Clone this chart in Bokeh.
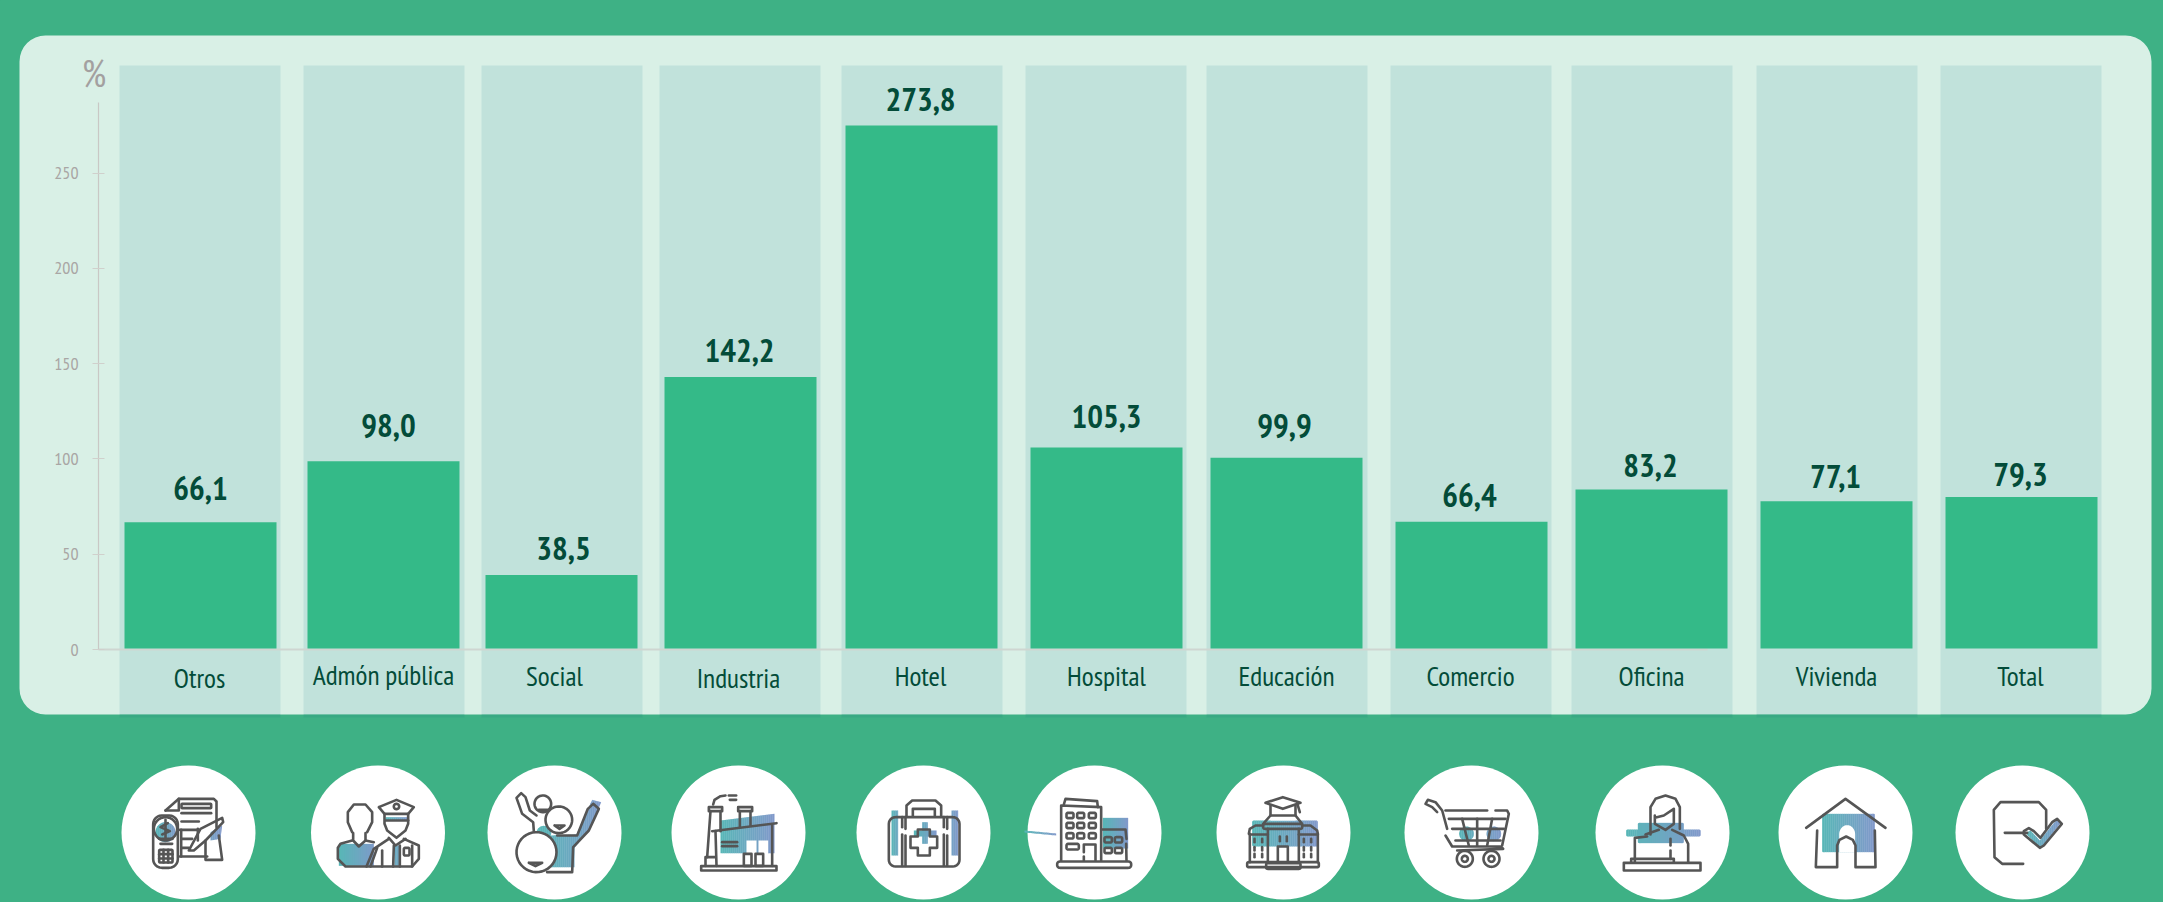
import numpy as np
from bokeh.core.properties import value
from bokeh.embed import file_html
from bokeh.models import BoxAnnotation, FixedTicker, Label, LinearAxis, Range1d
from bokeh.plotting import figure
from bokeh.resources import INLINE

# ---- data ----
categories = ["Otros", "Admón pública", "Social", "Industria", "Hotel", "Hospital",
              "Educación", "Comercio", "Oficina", "Vivienda", "Total"]
values = [66.1, 98.0, 38.5, 142.2, 273.8, 105.3, 99.9, 66.4, 83.2, 77.1, 79.3]
value_labels = ["66,1", "98,0", "38,5", "142,2", "273,8", "105,3", "99,9", "66,4", "83,2", "77,1", "79,3"]
y_ticks = [0, 50, 100, 150, 200, 250]

# ---- layout (page pixels) ----
W, H = 2163, 902
FONT = "'PT Sans Narrow','Cabin Condensed','Open Sans',sans-serif"
COL_L = [119, 303, 481, 659, 841, 1025, 1206, 1390, 1571, 1756, 1940]
BAR_L = [124, 307, 485, 664, 845, 1030, 1210, 1395, 1575, 1760, 1945]
BAR_W = 152
COL_W = 161
LABEL_X = [199, 383, 554, 738, 920, 1106, 1286, 1470, 1651, 1836, 2020]
LABEL_Y = [677, 674, 675, 677, 675, 675, 675, 675, 675, 675, 675]
VALUE_X = [200, 388, 563, 739, 920, 1106, 1284, 1469, 1650, 1835, 2020]
VALUE_Y = [488, 424.5, 547.5, 350, 99, 416, 424.5, 495, 464.5, 475.5, 474]
ICON_X = [188, 377.5, 554, 738, 923, 1094, 1283, 1471, 1662, 1845, 2022]
BASE_PX, PX_PER_UNIT = 648, 1.91

GREEN, PANEL, COLBG, STUB, BAR, DARK, GREY, INK = ("#3eb185", "#d9f0e6", "#c1e2db", "#38a983",
                                                  "#34ba88", "#034c39", "#a9a6a4", "#555555")

p = figure(width=W, height=H, output_backend="svg", toolbar_location=None,
           x_range=Range1d(0, W),
           y_range=Range1d(-(H - BASE_PX) / PX_PER_UNIT, BASE_PX / PX_PER_UNIT),
           x_axis_location=None, y_axis_location=None,
           min_border_left=0, min_border_right=0, min_border_top=0, min_border_bottom=0,
           border_fill_color=GREEN, background_fill_color=GREEN, outline_line_color=None)
p.grid.visible = False
p.extra_y_ranges["px"] = Range1d(H, 0)
p.extra_y_ranges["tick"] = Range1d(-(H - 649) / 1.906, 649 / 1.906)

p.add_layout(BoxAnnotation(left=19, right=2151, top=35, bottom=714,
                           left_units="canvas", right_units="canvas", top_units="canvas", bottom_units="canvas",
                           fill_color=PANEL, fill_alpha=1, line_color=None, border_radius=26, level="underlay"))

col_l = np.array(COL_L)
bar_l = np.array(BAR_L)
p.quad(left=col_l, right=col_l + COL_W, top=65, bottom=714, y_range_name="px", fill_color=COLBG, line_color=None)
p.quad(left=col_l, right=col_l + COL_W, top=714, bottom=717, y_range_name="px", fill_color=STUB, line_color=None)
p.segment(x0=[98], x1=[1707], y0=[649], y1=[649], y_range_name="px", line_color="#cfd6d1", line_width=2)
p.quad(left=bar_l, right=bar_l + BAR_W, bottom=0, top=values, fill_color=BAR, line_color=None)

axis = LinearAxis(y_range_name="tick", ticker=FixedTicker(ticks=y_ticks), bounds=(0, 287), fixed_location=98,
                  axis_line_color="#c9c8c5", axis_line_width=1.2,
                  major_tick_line_color="#d0d0cc", major_tick_line_width=1.2,
                  major_tick_in=6, major_tick_out=6, minor_tick_line_color=None,
                  major_label_text_color=GREY, major_label_text_font=FONT,
                  major_label_text_font_size="18px", major_label_standoff=14)
p.add_layout(axis, "left")
p.add_layout(Label(x=93.5, y=72, x_units="canvas", y_units="canvas", text="%", text_align="center",
                   text_baseline="alphabetic", text_color="#a3a0a0", text_font=FONT, text_font_size="38px"))

p.text(x=LABEL_X, y=LABEL_Y, text=categories, y_range_name="px", text_align="center", text_baseline="middle",
       text_color=DARK, text_font=value(FONT), text_font_size="27.5px")
p.text(x=VALUE_X, y=VALUE_Y, text=value_labels, y_range_name="px", text_align="center", text_baseline="middle",
       text_color=DARK, text_font=value(FONT), text_font_style="bold", text_font_size="33px")

p.circle(x=ICON_X, y=[832] * 11, radius=67, y_range_name="px", fill_color="white", line_color=None)

# ---- icon artwork: sketched in 3x zoom coordinates around an origin ----
paths = []


def lerp(t):
    a, b = np.array([0x58, 0xb7, 0xb7]), np.array([0x82, 0x99, 0xcb])
    c = a + (b - a) * float(np.clip(t, 0, 1))
    return "#%02x%02x%02x" % tuple(int(v) for v in c)


def clip_slab(poly, x0, x1):
    def clip(pts, keep, cross):
        out = []
        for i in range(len(pts)):
            a, b = pts[i], pts[(i + 1) % len(pts)]
            if keep(a):
                out.append(a)
            if keep(a) != keep(b):
                out.append(cross(a, b))
        return out

    def at(xv):
        return lambda a, b: (xv, a[1] + (b[1] - a[1]) * (xv - a[0]) / (b[0] - a[0]))

    pts = clip(list(poly), lambda q: q[0] >= x0, at(x0))
    return clip(pts, lambda q: q[0] <= x1, at(x1)) if pts else pts


def arc(cx, cy, rx, ry=None, a0=0, a1=360, n=40):
    ry = rx if ry is None else ry
    t = np.radians(np.linspace(a0, a1, n))
    return list(zip(cx + rx * np.cos(t), cy + ry * np.sin(t)))


def rrect(x0, y0, x1, y1, r=4):
    return (arc(x0 + r, y0 + r, r, r, 180, 270, 7) + arc(x1 - r, y0 + r, r, r, 270, 360, 7)
            + arc(x1 - r, y1 - r, r, r, 0, 90, 7) + arc(x0 + r, y1 - r, r, r, 90, 180, 7))


def box(x0, y0, x1, y1):
    return [(x0, y0), (x1, y0), (x1, y1), (x0, y1)]


class Icon:
    def __init__(self, ox, oy=760):
        self.ox, self.oy = ox, oy

    def pt(self, pts):
        a = np.array(pts, float)
        return a[:, 0] / 3 + self.ox, a[:, 1] / 3 + self.oy

    def line(self, *polys):
        for q in polys:
            x, y = self.pt(q)
            paths.append((list(x), list(y)))

    def loop(self, *polys):
        self.line(*[list(q) + [q[0]] for q in polys])

    def grad(self, poly, g0=None, g1=None):
        a = np.array(poly, float)
        g0 = a[:, 0].min() if g0 is None else g0
        g1 = a[:, 0].max() if g1 is None else g1
        xs, ys, cs = [], [], []
        edges = np.arange(a[:, 0].min(), a[:, 0].max() + 6, 6)
        for e0, e1 in zip(edges[:-1], edges[1:]):
            s = clip_slab([tuple(v) for v in a], e0, e1 + 1)
            if len(s) >= 3:
                x, y = self.pt(s)
                xs.append(list(x)); ys.append(list(y)); cs.append(lerp(((e0 + e1) / 2 - g0) / (g1 - g0)))
        p.patches(xs, ys, y_range_name="px", fill_color=cs, line_color=None)

    def white(self, poly):
        x, y = self.pt(poly)
        p.patch(list(x), list(y), y_range_name="px", fill_color="white", line_color=None)


# Otros
i = Icon(110)
i.grad(arc(165, 215, 30), 135, 200)
i.grad([(300, 215), (335, 195), (330, 235), (300, 240)], 210, 335)
i.line([(165, 150), (205, 115), (310, 115), (318, 123), (318, 200)], [(205, 115), (205, 150), (165, 150)],
       [(213, 158), (302, 158)], [(213, 183), (265, 183)], [(208, 208), (262, 208)],
       [(208, 288), (290, 288)], [(212, 208), (212, 288)], [(215, 235), (245, 235)], [(215, 262), (235, 262)],
       [(235, 270), (270, 205), (335, 172), (338, 185), (285, 240), (250, 270), (235, 270)],
       [(285, 240), (285, 298), (335, 298), (325, 225)], [(262, 205), (262, 240)],
       [(150, 250), (185, 250)], [(146, 235), (186, 235)],
       [(155, 222), (178, 212), (150, 200), (172, 188)], [(165, 178), (165, 232)],
       [(159, 268), (159, 306)], [(173, 268), (173, 306)], [(146, 281), (186, 281)], [(146, 294), (186, 294)])
i.loop(rrect(213, 130, 302, 143, 2), rrect(128, 165, 202, 322, 26), arc(165, 205, 35), rrect(146, 268, 186, 306, 3))
# Admón pública
i = Icon(110)
i.grad(box(685, 250, 790, 316), 685, 800)
i.grad(box(825, 170, 892, 180), 825, 892)
i.grad(box(852, 255, 868, 316), 800, 920)
i.line([(725, 215), (712, 185), (712, 155), (730, 132), (765, 132), (785, 155), (785, 185), (770, 215)],
       [(728, 218), (728, 240), (745, 258), (765, 240), (765, 218)],
       [(725, 240), (690, 250), (682, 262), (682, 295), (705, 318), (905, 318), (925, 295), (925, 255), (880, 235)],
       [(790, 245), (765, 240)], [(805, 140), (858, 118), (910, 140), (893, 160), (822, 160), (805, 140)],
       [(822, 160), (822, 190), (830, 210), (858, 232), (885, 210), (893, 190), (893, 160)],
       [(825, 180), (893, 180)], [(835, 232), (855, 255), (885, 235)],
       [(850, 255), (848, 318)], [(868, 255), (868, 318)],
       [(768, 318), (790, 265), (835, 235)], [(780, 318), (800, 262)], [(905, 255), (905, 318)], [(815, 270), (815, 318)])
i.loop(rrect(880, 262, 897, 285, 4), arc(858, 138, 8))
# Social
i = Icon(110)
i.grad([(1445, 118), (1472, 125), (1440, 205), (1392, 262), (1392, 320), (1320, 320), (1320, 225), (1398, 222)], 1290, 1475)
i.grad(arc(1300, 218, 22), 1290, 1475)
i.line([(1270, 212), (1268, 185), (1235, 160), (1218, 112), (1232, 98), (1245, 110), (1258, 150), (1278, 165)],
       [(1340, 225), (1400, 225), (1432, 145), (1448, 130), (1465, 145), (1435, 210), (1388, 260), (1385, 335), (1310, 335)],
       [(1285, 148), (1310, 148), (1297, 152), (1285, 148)], [(1332, 195), (1362, 195), (1347, 205), (1332, 195)])
i.white(arc(1278, 275, 60))
i.line(arc(1297, 130, 25), arc(1345, 178, 40), arc(1278, 275, 60),
       [(1255, 307), (1295, 307), (1275, 317), (1255, 307)])
# Industria
i = Icon(670)
i.grad([(150, 180), (312, 160), (312, 278), (150, 278)])
i.white(box(228, 240, 258, 282)); i.white(box(264, 240, 293, 282))
i.line([(128, 132), (132, 118), (150, 107), (165, 105)], [(175, 105), (197, 105)], [(178, 118), (197, 118)],
       [(120, 152), (110, 290)], [(150, 152), (150, 212)], [(135, 212), (138, 316)],
       [(208, 152), (208, 200)], [(240, 152), (240, 195)], [(125, 212), (318, 188)], [(305, 195), (305, 316)],
       [(105, 316), (105, 290), (135, 290)], [(155, 245), (200, 245)], [(155, 257), (200, 257)])
i.loop(box(115, 140, 155, 152), box(203, 140, 245, 152), box(92, 317, 318, 330), box(220, 280, 243, 316), box(255, 280, 278, 316))
# Hotel
i = Icon(670)
i.grad(box(663, 150, 683, 285), 663, 700); i.grad(box(843, 150, 863, 285), 800, 863)
i.grad(box(755, 185, 772, 250), 730, 798); i.grad(box(730, 210, 798, 228), 730, 798)
i.line([(708, 168), (708, 135), (725, 120), (795, 120), (812, 135), (812, 168)],
       [(727, 168), (727, 145), (793, 145), (793, 168)],
       [(695, 170), (695, 200)], [(695, 222), (695, 316)], [(820, 170), (820, 200)], [(820, 222), (820, 316)],
       [(705, 170), (705, 205)], [(705, 225), (705, 316)], [(830, 170), (830, 205)], [(830, 225), (830, 316)])
i.loop(rrect(655, 170, 867, 318, 20),
       [(742, 207), (778, 207), (778, 228), (800, 228), (800, 262), (778, 262), (778, 285), (742, 285), (742, 262),
        (720, 262), (720, 228), (742, 228)])
# Hospital
i = Icon(670)
i.grad(box(1297, 172, 1373, 264))
i.grad([(1062, 210), (1157, 219), (1157, 225), (1062, 216)])
i.line([(1172, 300), (1172, 135), (1292, 140), (1292, 300)], [(1180, 132), (1185, 115), (1280, 122), (1282, 140)],
       [(1240, 288), (1240, 300)], [(1240, 275), (1240, 252), (1275, 252), (1275, 300)],
       [(1292, 207), (1365, 207), (1368, 235)], [(1367, 250), (1368, 300)])
i.loop(*[rrect(x, y, x + 21, y + 16, 4) for x in (1188, 1220, 1255) for y in (157, 187, 218)],
       rrect(1188, 250, 1225, 267, 5), rrect(1160, 303, 1382, 322, 8),
       *[rrect(x, y, x + 22, y + 16, 4) for x in (1302, 1333) for y in (230, 262)])
# Educación
i = Icon(1190)
i.grad(rrect(185, 180, 382, 258, 5))
i.white(box(240, 135, 315, 180))
i.line([(240, 135), (240, 165), (218, 190)], [(315, 135), (315, 165), (335, 190)], [(240, 165), (315, 165)],
       [(320, 128), (328, 155)], [(175, 220), (178, 205), (195, 195), (218, 195)], [(335, 195), (360, 195), (380, 210), (382, 220)],
       [(178, 222), (232, 222)], [(325, 222), (382, 222)], [(178, 220), (178, 305)], [(382, 220), (382, 305)],
       [(232, 205), (232, 305)], [(325, 205), (325, 305)], [(262, 305), (262, 258), (292, 258), (292, 305)],
       *[[(x, y), (x, y + 10)] for x in (192, 215, 340, 362) for y in (235, 260, 280)],
       [(268, 228), (268, 242)], [(289, 228), (289, 242)])
i.loop([(225, 127), (277, 110), (330, 127), (277, 145)], rrect(218, 190, 335, 205, 5),
       rrect(170, 305, 385, 320, 4), rrect(227, 308, 330, 325, 4))
# Comercio
i = Icon(1190)
i.grad(arc(828, 220, 22), 800, 935); i.grad(arc(910, 220, 22), 800, 935)
i.line([(770, 205), (755, 150), (735, 125), (712, 118), (705, 130), (725, 140), (740, 155)],
       [(765, 225), (785, 258), (930, 258), (938, 265), (800, 270)], [(765, 150), (890, 150)],
       [(915, 150), (950, 150), (955, 160), (935, 255)], [(775, 175), (945, 175)], [(785, 205), (940, 205)],
       [(795, 240), (930, 240)], [(815, 175), (835, 255)], [(860, 175), (860, 255)], [(905, 175), (890, 255)])
i.loop(arc(823, 295, 24), arc(823, 295, 9), arc(903, 295, 24), arc(903, 295, 9))
# Oficina
i = Icon(1190)
i.grad(rrect(1307, 207, 1530, 228, 4), 1307, 1530)
i.grad(rrect(1342, 187, 1480, 248, 4), 1307, 1530)
i.line([(1380, 222), (1380, 140), (1395, 115), (1425, 105), (1455, 115), (1468, 140), (1468, 205)],
       [(1393, 165), (1393, 190), (1425, 208), (1450, 190), (1450, 145), (1420, 165), (1393, 172)],
       [(1365, 222), (1405, 208)], [(1445, 208), (1480, 225), (1493, 250), (1493, 305)],
       [(1333, 305), (1333, 232), (1370, 228)], [(1440, 235), (1440, 255)], [(1440, 270), (1440, 295)],
       [(1322, 305), (1322, 295), (1450, 295), (1450, 305)])
i.loop(box(1300, 307, 1530, 330))
# Vivienda
i = Icon(1680)
i.grad(rrect(425, 160, 583, 275, 3))
i.white(arc(500, 222, 24, 28, 180, 360) + [(524, 275), (476, 275)])
i.line([(377, 202), (495, 115), (615, 202)],
       [(410, 210), (406, 320), (470, 320), (470, 255), (477, 238), (497, 228), (517, 238), (525, 255), (525, 320), (585, 320), (583, 210)])
# Total
i = Icon(1680)
i.grad([(1035, 218), (1050, 210), (1078, 240), (1128, 178), (1140, 188), (1085, 258), (1075, 258)], 1035, 1140)
i.line([(1028, 310), (965, 310), (942, 290), (940, 148), (960, 125), (1075, 125), (1097, 148), (1097, 205)],
       [(973, 217), (1040, 217)])
i.loop([(1030, 222), (1078, 262), (1090, 255), (1144, 190), (1130, 175), (1115, 185), (1080, 232), (1060, 212), (1045, 203), (1030, 212)])

p.multi_line([q[0] for q in paths], [q[1] for q in paths], y_range_name="px", line_color=INK, line_width=2.6,
             line_cap="round", line_join="round")

html = file_html(p, INLINE)
html = html.replace("</head>", "<style>html,body{margin:0;padding:0;background:%s;overflow:hidden}</style></head>" % GREEN, 1)
open("out.html", "w").write(html)
